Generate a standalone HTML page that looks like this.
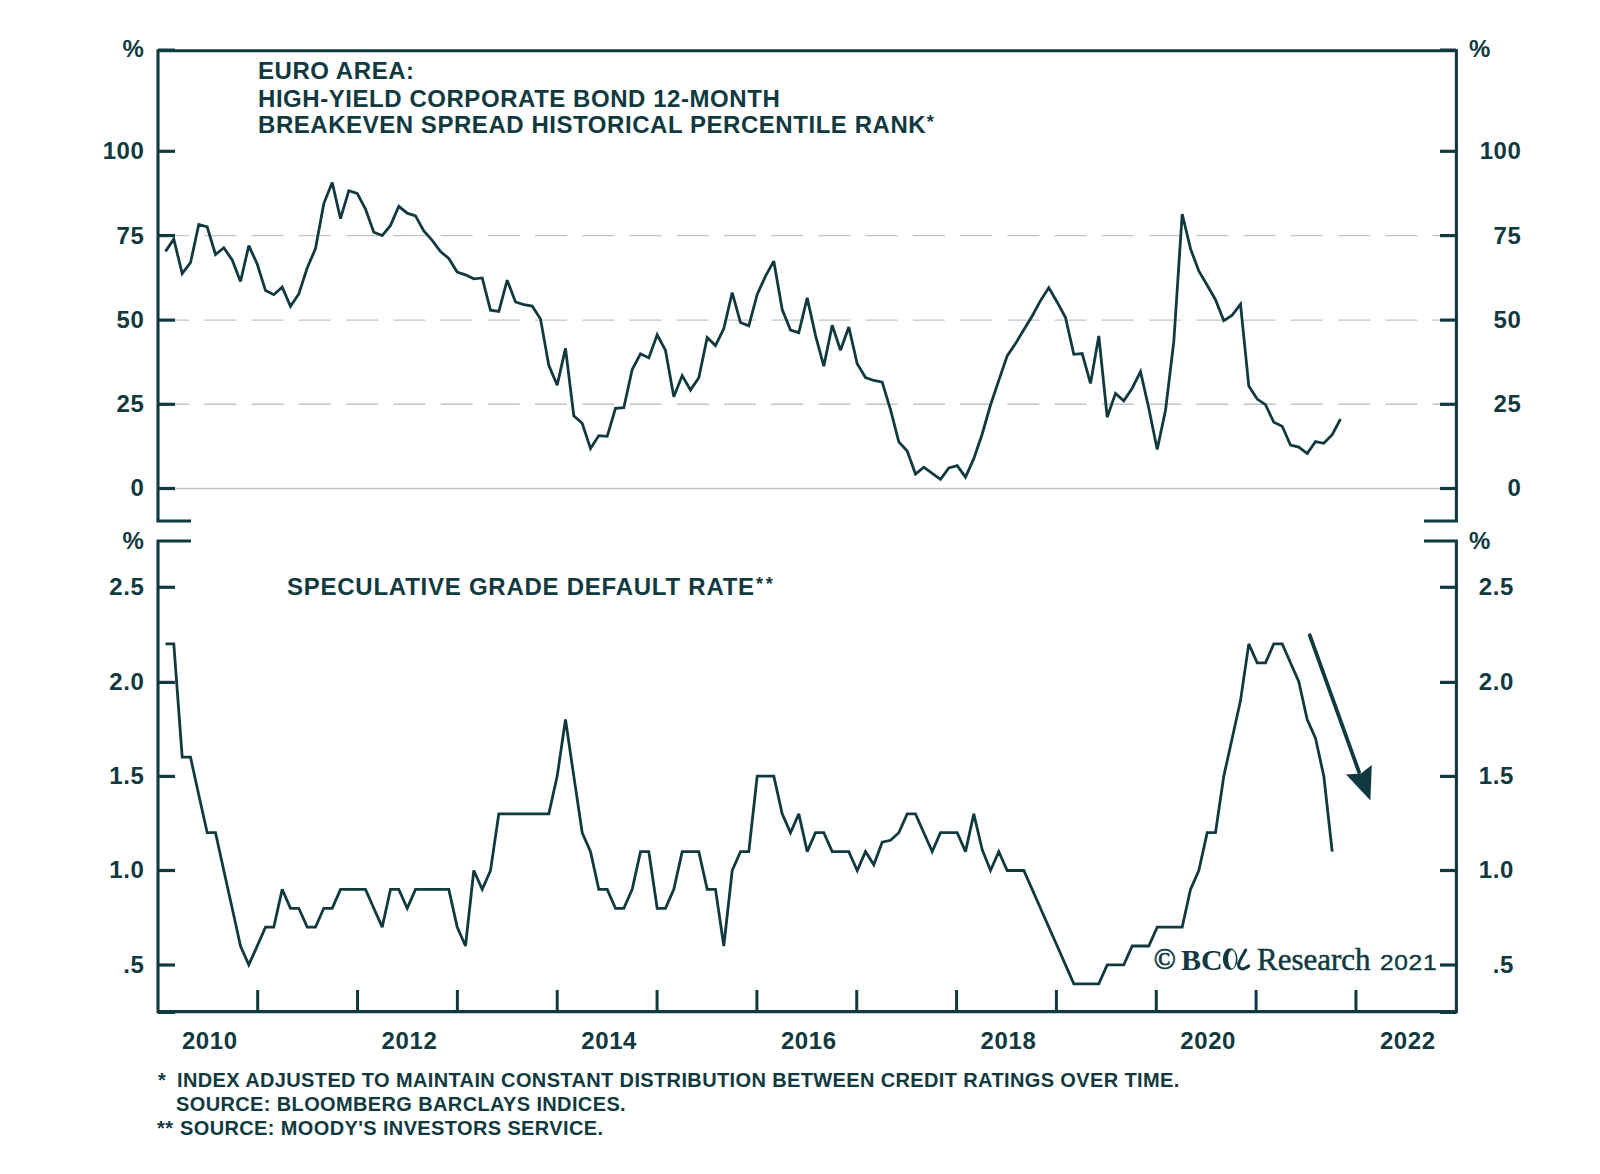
<!DOCTYPE html>
<html><head><meta charset="utf-8"><style>
html,body{margin:0;padding:0;background:#fff;}
svg{display:block;}
</style></head><body>
<svg width="1600" height="1174" viewBox="0 0 1600 1174">
<rect width="1600" height="1174" fill="#fff"/>
<line x1="175" y1="235.6" x2="1440" y2="235.6" stroke="#c0c5c5" stroke-width="1.4" stroke-dasharray="32 15.24" stroke-dashoffset="17.9"/>
<line x1="175" y1="320.1" x2="1440" y2="320.1" stroke="#c0c5c5" stroke-width="1.4" stroke-dasharray="32 15.24" stroke-dashoffset="17.9"/>
<line x1="175" y1="404.3" x2="1440" y2="404.3" stroke="#c0c5c5" stroke-width="1.4" stroke-dasharray="32 15.24" stroke-dashoffset="17.9"/>
<line x1="175" y1="488.5" x2="1440" y2="488.5" stroke="#c0c5c5" stroke-width="1.3"/>
<path d="M158,521 V50.8 H1456.4 V521 M156.3,521 H191 M1457.95,521 H1424" fill="none" stroke="#103a40" stroke-width="3.1"/>
<path d="M191,541 H158 V1011.6 H1456.4 V541 H1424" fill="none" stroke="#103a40" stroke-width="3.1" stroke-linejoin="miter"/>
<path d="M158,50.1 H175 M1440,50.1 H1456.4 M158,1012.4 H175 M1440,1012.4 H1456.4" stroke="#103a40" stroke-width="3.2"/>
<line x1="158" y1="151.3" x2="175" y2="151.3" stroke="#103a40" stroke-width="3.2"/>
<line x1="1440" y1="151.3" x2="1456.4" y2="151.3" stroke="#103a40" stroke-width="3.2"/>
<line x1="158" y1="235.6" x2="175" y2="235.6" stroke="#103a40" stroke-width="3.2"/>
<line x1="1440" y1="235.6" x2="1456.4" y2="235.6" stroke="#103a40" stroke-width="3.2"/>
<line x1="158" y1="320.1" x2="175" y2="320.1" stroke="#103a40" stroke-width="3.2"/>
<line x1="1440" y1="320.1" x2="1456.4" y2="320.1" stroke="#103a40" stroke-width="3.2"/>
<line x1="158" y1="404.3" x2="175" y2="404.3" stroke="#103a40" stroke-width="3.2"/>
<line x1="1440" y1="404.3" x2="1456.4" y2="404.3" stroke="#103a40" stroke-width="3.2"/>
<line x1="158" y1="488.5" x2="175" y2="488.5" stroke="#103a40" stroke-width="3.2"/>
<line x1="1440" y1="488.5" x2="1456.4" y2="488.5" stroke="#103a40" stroke-width="3.2"/>
<line x1="158" y1="587.3" x2="175" y2="587.3" stroke="#103a40" stroke-width="3.2"/>
<line x1="1440" y1="587.3" x2="1456.4" y2="587.3" stroke="#103a40" stroke-width="3.2"/>
<line x1="158" y1="682.4" x2="175" y2="682.4" stroke="#103a40" stroke-width="3.2"/>
<line x1="1440" y1="682.4" x2="1456.4" y2="682.4" stroke="#103a40" stroke-width="3.2"/>
<line x1="158" y1="776.4" x2="175" y2="776.4" stroke="#103a40" stroke-width="3.2"/>
<line x1="1440" y1="776.4" x2="1456.4" y2="776.4" stroke="#103a40" stroke-width="3.2"/>
<line x1="158" y1="870.5" x2="175" y2="870.5" stroke="#103a40" stroke-width="3.2"/>
<line x1="1440" y1="870.5" x2="1456.4" y2="870.5" stroke="#103a40" stroke-width="3.2"/>
<line x1="158" y1="965.0" x2="175" y2="965.0" stroke="#103a40" stroke-width="3.2"/>
<line x1="1440" y1="965.0" x2="1456.4" y2="965.0" stroke="#103a40" stroke-width="3.2"/>
<line x1="257.7" y1="990" x2="257.7" y2="1011.6" stroke="#103a40" stroke-width="3"/>
<line x1="357.53999999999996" y1="990" x2="357.53999999999996" y2="1011.6" stroke="#103a40" stroke-width="3"/>
<line x1="457.38" y1="990" x2="457.38" y2="1011.6" stroke="#103a40" stroke-width="3"/>
<line x1="557.22" y1="990" x2="557.22" y2="1011.6" stroke="#103a40" stroke-width="3"/>
<line x1="657.06" y1="990" x2="657.06" y2="1011.6" stroke="#103a40" stroke-width="3"/>
<line x1="756.9000000000001" y1="990" x2="756.9000000000001" y2="1011.6" stroke="#103a40" stroke-width="3"/>
<line x1="856.74" y1="990" x2="856.74" y2="1011.6" stroke="#103a40" stroke-width="3"/>
<line x1="956.5799999999999" y1="990" x2="956.5799999999999" y2="1011.6" stroke="#103a40" stroke-width="3"/>
<line x1="1056.42" y1="990" x2="1056.42" y2="1011.6" stroke="#103a40" stroke-width="3"/>
<line x1="1156.26" y1="990" x2="1156.26" y2="1011.6" stroke="#103a40" stroke-width="3"/>
<line x1="1256.1000000000001" y1="990" x2="1256.1000000000001" y2="1011.6" stroke="#103a40" stroke-width="3"/>
<line x1="1355.94" y1="990" x2="1355.94" y2="1011.6" stroke="#103a40" stroke-width="3"/>
<polyline points="165.5,251.4 173.8,239.2 182.2,273.6 190.5,262.7 198.8,224.5 207.2,227.0 215.5,254.5 223.8,247.7 232.2,260.0 240.5,281.5 248.8,245.6 257.2,264.0 265.5,290.6 273.8,294.7 282.2,287.2 290.5,306.3 298.8,294.0 307.2,268.0 315.5,248.6 323.8,203.6 332.2,182.5 340.5,218.6 348.8,190.7 357.2,193.4 365.5,209.0 373.8,232.2 382.2,235.6 390.5,225.4 398.8,206.3 407.2,213.2 415.5,215.9 423.8,230.9 432.2,240.4 440.5,251.5 448.8,258.5 457.2,272.0 465.5,274.8 473.8,278.8 482.2,277.9 490.5,310.2 498.8,311.5 507.2,280.2 515.5,302.0 523.8,304.7 532.2,306.1 540.5,319.0 548.8,365.4 557.2,385.1 565.5,348.4 573.8,415.8 582.2,423.3 590.5,448.6 598.8,435.6 607.2,436.3 615.5,408.3 623.8,407.7 632.2,369.5 640.5,353.8 648.8,357.9 657.2,334.8 665.5,350.4 673.8,396.8 682.2,375.6 690.5,390.0 698.8,377.7 707.2,337.5 715.5,345.6 723.8,328.6 732.2,292.5 740.5,322.5 748.8,325.9 757.2,294.5 765.5,276.1 773.8,261.1 782.2,309.5 790.5,330.0 798.8,332.7 807.2,297.9 815.5,335.4 823.8,366.1 832.2,325.2 840.5,350.2 848.8,327.0 857.2,363.7 865.5,377.5 873.8,380.5 882.2,382.1 890.5,409.7 898.8,441.9 907.2,451.1 915.5,474.1 923.8,467.2 932.2,473.3 940.5,479.4 948.8,467.9 957.2,465.6 965.5,477.1 973.8,458.7 982.2,434.0 990.5,405.0 998.8,380.4 1007.2,355.9 1015.5,343.6 1023.8,329.8 1032.2,316.0 1040.5,300.7 1048.8,287.6 1057.2,302.2 1065.5,317.5 1073.8,354.3 1082.2,353.6 1090.5,383.5 1098.8,335.9 1107.2,417.2 1115.5,393.4 1123.8,400.8 1132.2,388.2 1140.5,371.6 1148.8,408.2 1157.2,449.5 1165.5,410.4 1173.8,341.7 1182.2,214.0 1190.5,248.7 1198.8,270.9 1207.2,285.3 1215.5,299.7 1223.8,320.7 1232.2,315.2 1240.5,304.1 1248.8,386.1 1257.2,399.1 1265.5,404.7 1273.8,422.3 1282.2,426.2 1290.5,445.0 1298.8,447.1 1307.2,453.5 1315.5,441.6 1323.8,443.3 1332.2,434.7 1340.5,419.0" fill="none" stroke="#103a40" stroke-width="2.8" stroke-linejoin="miter" stroke-miterlimit="3"/>
<polyline points="165.5,643.9 173.8,643.9 182.2,757.2 190.5,757.2 198.8,795.0 207.2,832.7 215.5,832.7 223.8,870.5 232.2,908.3 240.5,946.0 248.8,964.9 257.2,946.0 265.5,927.1 273.8,927.1 282.2,889.4 290.5,908.3 298.8,908.3 307.2,927.1 315.5,927.1 323.8,908.3 332.2,908.3 340.5,889.4 348.8,889.4 357.2,889.4 365.5,889.4 373.8,908.3 382.2,927.1 390.5,889.4 398.8,889.4 407.2,908.3 415.5,889.4 423.8,889.4 432.2,889.4 440.5,889.4 448.8,889.4 457.2,927.1 465.5,946.0 473.8,870.5 482.2,889.4 490.5,870.5 498.8,813.9 507.2,813.9 515.5,813.9 523.8,813.9 532.2,813.9 540.5,813.9 548.8,813.9 557.2,776.1 565.5,719.5 573.8,776.1 582.2,832.7 590.5,851.6 598.8,889.4 607.2,889.4 615.5,908.3 623.8,908.3 632.2,889.4 640.5,851.6 648.8,851.6 657.2,908.3 665.5,908.3 673.8,889.4 682.2,851.6 690.5,851.6 698.8,851.6 707.2,889.4 715.5,889.4 723.8,946.0 732.2,870.5 740.5,851.6 748.8,851.6 757.2,776.1 765.5,776.1 773.8,776.1 782.2,813.9 790.5,832.7 798.8,813.9 807.2,851.6 815.5,832.7 823.8,832.7 832.2,851.6 840.5,851.6 848.8,851.6 857.2,870.5 865.5,851.6 873.8,864.8 882.2,842.2 890.5,840.3 898.8,832.7 907.2,813.9 915.5,813.9 923.8,832.7 932.2,851.6 940.5,832.7 948.8,832.7 957.2,832.7 965.5,851.6 973.8,813.9 982.2,849.7 990.5,870.5 998.8,851.6 1007.2,870.5 1015.5,870.5 1023.8,870.5 1032.2,889.4 1040.5,908.3 1048.8,927.1 1057.2,946.0 1065.5,964.9 1073.8,983.8 1082.2,983.8 1090.5,983.8 1098.8,983.8 1107.2,964.9 1115.5,964.9 1123.8,964.9 1132.2,946.0 1140.5,946.0 1148.8,946.0 1157.2,927.1 1165.5,927.1 1173.8,927.1 1182.2,927.1 1190.5,889.4 1198.8,870.5 1207.2,832.7 1215.5,832.7 1223.8,776.1 1232.2,738.3 1240.5,700.6 1248.8,643.9 1257.2,662.8 1265.5,662.8 1273.8,643.9 1282.2,643.9 1290.5,662.8 1298.8,681.7 1307.2,719.5 1315.5,738.3 1323.8,776.1 1332.2,851.6" fill="none" stroke="#103a40" stroke-width="2.8" stroke-linejoin="miter" stroke-miterlimit="3"/>
<line x1="1309.8" y1="635.3" x2="1359" y2="772" stroke="#103a40" stroke-width="3.8" stroke-linecap="round"/>
<polygon points="1346,774.6 1361,773.4 1371.8,765 1370.4,800.5" fill="#103a40"/>
<g font-family="'Liberation Sans', sans-serif" font-weight="bold" font-size="24" fill="#103a40" letter-spacing="0.6">
<text x="144.5" y="159.2" text-anchor="end">100</text>
<text x="1521.5" y="159.2" text-anchor="end">100</text>
<text x="144.5" y="243.5" text-anchor="end">75</text>
<text x="1521.5" y="243.5" text-anchor="end">75</text>
<text x="144.5" y="328.0" text-anchor="end">50</text>
<text x="1521.5" y="328.0" text-anchor="end">50</text>
<text x="144.5" y="412.2" text-anchor="end">25</text>
<text x="1521.5" y="412.2" text-anchor="end">25</text>
<text x="144.5" y="496.4" text-anchor="end">0</text>
<text x="1521.5" y="496.4" text-anchor="end">0</text>
<text x="144.5" y="595.2" text-anchor="end">2.5</text>
<text x="1514" y="595.2" text-anchor="end">2.5</text>
<text x="144.5" y="690.3" text-anchor="end">2.0</text>
<text x="1514" y="690.3" text-anchor="end">2.0</text>
<text x="144.5" y="784.3" text-anchor="end">1.5</text>
<text x="1514" y="784.3" text-anchor="end">1.5</text>
<text x="144.5" y="878.4" text-anchor="end">1.0</text>
<text x="1514" y="878.4" text-anchor="end">1.0</text>
<text x="144.5" y="972.9" text-anchor="end">.5</text>
<text x="1514" y="972.9" text-anchor="end">.5</text>
<text x="144.5" y="57" text-anchor="end">%</text>
<text x="1469" y="57">%</text>
<text x="144.5" y="549" text-anchor="end">%</text>
<text x="1469" y="549">%</text>
<text x="209.8" y="1049" text-anchor="middle">2010</text>
<text x="409.47" y="1049" text-anchor="middle">2012</text>
<text x="609.14" y="1049" text-anchor="middle">2014</text>
<text x="808.81" y="1049" text-anchor="middle">2016</text>
<text x="1008.48" y="1049" text-anchor="middle">2018</text>
<text x="1208.1499999999999" y="1049" text-anchor="middle">2020</text>
<text x="1407.82" y="1049" text-anchor="middle">2022</text>
<text x="258" y="78.5" letter-spacing="0.55">EURO AREA:</text>
<text x="258" y="107" letter-spacing="0.55">HIGH-YIELD CORPORATE BOND 12-MONTH</text>
<text x="258" y="133.1" letter-spacing="0.55">BREAKEVEN SPREAD HISTORICAL PERCENTILE RANK<tspan font-size="18" dy="-5.2" dx="0.5">*</tspan></text>
<text x="287" y="595" letter-spacing="0.75">SPECULATIVE GRADE DEFAULT RATE<tspan font-size="18" dy="-5.2" dx="1.2" letter-spacing="2.8">**</tspan></text>
</g>
<g font-family="'Liberation Sans', sans-serif" font-weight="bold" font-size="20" fill="#103a40" letter-spacing="0.37">
<text x="158" y="1087">*</text><text x="177" y="1087">INDEX ADJUSTED TO MAINTAIN CONSTANT DISTRIBUTION BETWEEN CREDIT RATINGS OVER TIME.</text>
<text x="176" y="1111">SOURCE: BLOOMBERG BARCLAYS INDICES.</text>
<text x="157" y="1135">**</text><text x="180" y="1135">SOURCE: MOODY'S INVESTORS SERVICE.</text>
</g>
<g fill="#103a40">
<text x="1153.7" y="969.4" font-family="'Liberation Serif', serif" font-size="29" stroke="#103a40" stroke-width="0.7">©</text>
<text x="1181" y="970" font-family="'Liberation Serif', serif" font-weight="bold" font-size="30">BC</text>
<path d="M1230.2,948.2 A7.3,10.9 0 1,0 1230.2,970 A7.3,10.9 0 1,0 1230.2,948.2 Z M1232,950 A3.9,9.1 0 1,1 1232,968.2 A3.9,9.1 0 1,1 1232,950 Z" fill-rule="evenodd"/>
<path d="M1245.8,950 C1243,955 1239.6,960 1238.6,964 C1238.2,967.5 1240.5,969.4 1243.5,968.7 C1245.5,968.2 1247.3,967.2 1248.7,966" fill="none" stroke="#103a40" stroke-width="3.1" stroke-linecap="round"/>
<text x="1257" y="970" font-family="'Liberation Serif', serif" font-size="31" stroke="#103a40" stroke-width="0.5">Research</text>
<text transform="translate(1380,970) scale(1.14,1)" x="0" y="0" font-family="'Liberation Sans', sans-serif" font-size="21.5" letter-spacing="0.6" stroke="#103a40" stroke-width="0.35">2021</text>
</g>
</svg>
</body></html>
